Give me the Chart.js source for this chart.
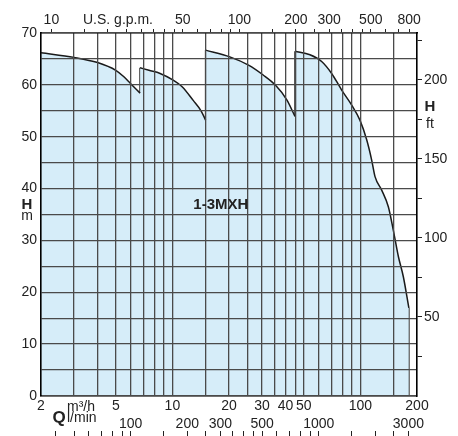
<!DOCTYPE html>
<html>
<head>
<meta charset="utf-8">
<script src="https://cdn.jsdelivr.net/npm/chart.js@4/dist/chart.umd.min.js"></script>
<style>
  html, body { margin: 0; padding: 0; background: #fff; }
  canvas { display: block; }
</style>
</head>
<body>
<canvas id="curve" width="458" height="436"></canvas>
<script>
// Curve segments: flow Q in m3/h, head H in m
const seg1Q = [2, 3, 4, 5, 5.5, 6, 6.73];
const seg1H = [66.2, 65.3, 64.3, 62.8, 61.6, 60.2, 58.4];
const seg2Q = [6.73, 7.5, 8.6, 10.1, 11.3, 12.9, 14.2, 15.02];
const seg2H = [63.3, 62.8, 62.2, 60.9, 59.6, 57.0, 55.0, 53.2];
const seg3Q = [15.02, 20.2, 25.4, 30.4, 35.2, 40.6, 44.9];
const seg3H = [66.7, 65.4, 63.8, 61.9, 60.0, 57.1, 53.9];
const seg4Q = [44.9, 53.9, 62.2, 70.3, 79.5, 89.9, 99.4, 108, 114.8, 119.6, 129.8, 140.8, 149.6, 159.2, 169.2, 181];
const seg4H = [66.5, 65.8, 64.5, 62.2, 59.0, 56.1, 53.2, 49.4, 45.5, 42.3, 39.7, 36.5, 32.0, 26.9, 23.0, 17.0];

// Axis ticks
const gridQ = [2, 3, 4, 5, 6, 7, 8, 9, 10, 15, 20, 25, 30, 35, 40, 45, 50, 60, 70, 80, 90, 100, 150, 200];
const labelQ = [2, 5, 10, 20, 30, 40, 50, 100, 200];
const tickGpm = [10, 15, 20, 25, 30, 35, 40, 45, 50, 60, 70, 80, 90, 100, 150, 200, 250, 300, 350, 400, 450, 500, 600, 700, 800];
const labelGpm = [10, 50, 100, 200, 300, 500, 800];
const tickLmin = [40, 50, 60, 70, 80, 90, 100, 150, 200, 250, 300, 350, 400, 450, 500, 600, 700, 800, 900, 1000, 1500, 2000, 2500, 3000];
const labelLmin = [100, 200, 300, 500, 1000, 3000];
const tickH = [0, 5, 10, 15, 20, 25, 30, 35, 40, 45, 50, 55, 60, 65, 70];
const labelH = [0, 10, 20, 30, 40, 50, 60, 70];
const tickFt = [25, 50, 75, 100, 125, 150, 175, 200, 225];
const labelFt = [50, 100, 150, 200];

const GPM = 4.4029;      // US gpm per m3/h
const LMIN = 1000 / 60;  // l/min per m3/h
const FT = 3.28084;      // ft per m

const Q_MIN = 2, Q_MAX = 200, H_MAX = 70;
const FILL = '#d6edf9';
const LINE = '#1a1a1a';
const GRID = '#4a4a4a';

Chart.defaults.font.family = "'Liberation Sans', Arial, sans-serif";
Chart.defaults.font.size = 14;
Chart.defaults.color = '#222';

const pts = (q, h) => q.map((v, i) => ({ x: v, y: h[i] }));

function segment(q, h) {
    return {
        data: pts(q, h),
        fill: 'origin',
        backgroundColor: FILL,
        borderColor: LINE,
        borderWidth: 1.5,
        pointRadius: 0,
        cubicInterpolationMode: 'monotone'
    };
}

function drop(q, hFrom, hTo) {
    return {
        data: [{ x: q, y: hFrom }, { x: q, y: hTo }],
        fill: false,
        borderColor: LINE,
        borderWidth: 1.5,
        pointRadius: 0
    };
}

const fixTicks = (vals) => (scale) => { scale.ticks = vals.map(v => ({ value: v })); };
const showOnly = (vals) => (value) => vals.includes(value) ? String(value) : '';
const setHeight = (h) => (scale) => { scale.height = h; };
const setWidth = (w) => (scale) => { scale.width = w; };

// Axis captions and curve name
const captions = {
    id: 'captions',
    afterDraw(chart) {
        const ctx = chart.ctx;
        const xs = chart.scales.x, ys = chart.scales.y;
        const fam = Chart.defaults.font.family;
        ctx.save();
        ctx.fillStyle = '#222';
        ctx.textAlign = 'center';
        ctx.textBaseline = 'middle';

        ctx.font = '14px ' + fam;
        ctx.fillText('U.S. g.p.m.', 118, 20);

        ctx.font = 'bold 15px ' + fam;
        ctx.fillText('H', 27, 205);
        ctx.fillText('H', 430, 107);
        ctx.font = '14px ' + fam;
        ctx.fillText('m', 27, 216);
        ctx.fillText('ft', 430, 124);

        ctx.font = 'bold 17px ' + fam;
        ctx.fillText('Q', 59, 418);
        ctx.font = '14px ' + fam;
        ctx.textAlign = 'left';
        ctx.fillText('m\u00b3/h', 67, 407);
        ctx.fillText('l/min', 67, 418);

        ctx.textAlign = 'center';
        ctx.font = 'bold 15px ' + fam;
        ctx.fillText('1-3MXH', xs.getPixelForValue(18.1), ys.getPixelForValue(36.8));
        ctx.restore();
    }
};

const ctx = document.getElementById('curve').getContext('2d');
new Chart(ctx, {
    type: 'line',
    data: {
        datasets: [
            segment(seg1Q, seg1H),
            segment(seg2Q, seg2H),
            segment(seg3Q, seg3H),
            segment(seg4Q, seg4H),
            drop(seg1Q[seg1Q.length - 1], seg1H[seg1H.length - 1], seg2H[0]),
            drop(seg2Q[seg2Q.length - 1], seg2H[seg2H.length - 1], seg3H[0]),
            drop(seg3Q[seg3Q.length - 1], seg3H[seg3H.length - 1], seg4H[0]),
            drop(seg4Q[seg4Q.length - 1], seg4H[seg4H.length - 1], 0)
        ]
    },
    options: {
        responsive: false,
        animation: false,
        devicePixelRatio: 1,
        layout: { padding: 0 },
        plugins: { legend: { display: false }, tooltip: { enabled: false } },
        scales: {
            x: {
                type: 'logarithmic',
                position: 'bottom',
                min: Q_MIN, max: Q_MAX,
                afterBuildTicks: fixTicks(gridQ),
                afterFit: setHeight(20),
                ticks: { callback: showOnly(labelQ), autoSkip: false, maxRotation: 0, padding: 2 },
                grid: { color: GRID, lineWidth: 1.3, drawTicks: false, z: 1 },
                border: { color: '#000', width: 1.5, z: 1 }
            },
            xL: {
                type: 'logarithmic',
                position: 'bottom',
                weight: 1,
                min: Q_MIN * LMIN, max: Q_MAX * LMIN,
                afterBuildTicks: fixTicks(labelLmin),
                afterFit: setHeight(15),
                ticks: { callback: showOnly(labelLmin), autoSkip: false, maxRotation: 0, padding: 0 },
                grid: { drawOnChartArea: false, drawTicks: false },
                border: { display: false }
            },
            xLmarks: {
                type: 'logarithmic',
                position: 'bottom',
                weight: 2,
                min: Q_MIN * LMIN, max: Q_MAX * LMIN,
                afterBuildTicks: fixTicks(tickLmin),
                afterFit: setHeight(5),
                ticks: { display: false },
                grid: { drawOnChartArea: false, drawTicks: true, tickLength: 5, tickColor: '#222', tickWidth: 1 },
                border: { display: false }
            },
            xTop: {
                type: 'logarithmic',
                position: 'top',
                min: Q_MIN * GPM, max: Q_MAX * GPM,
                afterBuildTicks: fixTicks(tickGpm),
                afterFit: setHeight(33),
                ticks: { callback: showOnly(labelGpm), autoSkip: false, maxRotation: 0, padding: 0 },
                grid: { drawOnChartArea: false, tickLength: 4, tickColor: '#222', tickWidth: 1 },
                border: { color: '#000', width: 1.5, z: 1 }
            },
            y: {
                type: 'linear',
                position: 'left',
                min: 0, max: H_MAX,
                afterBuildTicks: fixTicks(tickH),
                afterFit: setWidth(41),
                ticks: { callback: showOnly(labelH), autoSkip: false, padding: 4 },
                grid: { color: GRID, lineWidth: 1.3, drawTicks: false, z: 1 },
                border: { color: '#000', width: 1.5, z: 1 }
            },
            yFt: {
                type: 'linear',
                position: 'right',
                min: 0, max: H_MAX * FT,
                afterBuildTicks: fixTicks(tickFt),
                afterFit: setWidth(41),
                ticks: { callback: showOnly(labelFt), autoSkip: false, padding: 2 },
                grid: { drawOnChartArea: false, tickLength: 5, tickColor: '#222', tickWidth: 1 },
                border: { color: '#000', width: 1.5, z: 1 }
            }
        }
    },
    plugins: [captions]
});
</script>
</body>
</html>
